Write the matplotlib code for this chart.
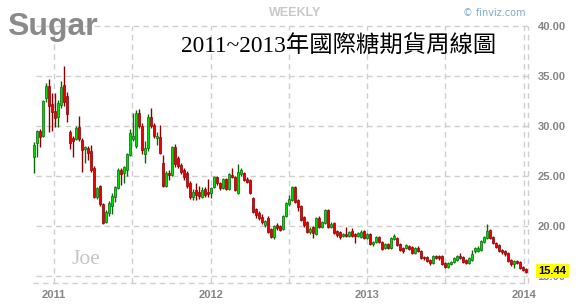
import matplotlib
matplotlib.use('Agg')
import matplotlib.pyplot as plt
import matplotlib.dates as mdates
import matplotlib.transforms as mtransforms
import pandas as pd
import numpy as np

# ---------------- data (weekly sugar futures) ----------------
dates = pd.date_range('2010-11-15', periods=165, freq='7D')

opens = [26.9, 28.3, 29.5, 29.0, 32.8, 34.0, 32.2, 31.5, 30.9, 32.1,
         34.1, 33.0, 29.4, 28.8, 28.7, 29.9, 28.6, 27.7, 27.8, 27.5,
         25.8, 22.9, 24.0, 22.2, 20.4, 21.3, 22.0, 22.9, 23.8, 25.6,
         25.3, 25.6, 27.1, 28.7, 28.0, 31.3, 30.0, 27.2, 27.8, 30.9,
         30.1, 28.8, 28.9, 26.3, 24.0, 25.3, 25.1, 27.9, 26.8, 26.1,
         25.6, 25.3, 24.3, 22.9, 23.6, 23.4, 22.9, 23.7, 23.4, 23.3,
         23.9, 24.9, 24.3, 23.8, 24.7, 23.7, 25.1, 24.9, 23.3, 25.2,
         25.3, 24.7, 24.6, 22.8, 21.7, 21.3, 20.9, 20.1, 20.8, 19.7,
         18.9, 20.1, 20.0, 19.7, 21.0, 22.2, 22.6, 23.9, 22.6, 22.0,
         20.9, 20.4, 19.4, 19.9, 19.2, 20.8, 19.9, 20.3, 21.6, 19.9,
         20.3, 19.5, 19.4, 19.0, 19.2, 19.0, 19.5, 19.2, 19.0, 18.9,
         19.5, 18.8, 19.2, 18.2, 18.4, 18.9, 18.4, 17.8, 18.2, 17.8,
         18.7, 18.8, 18.2, 17.8, 17.8, 18.0, 17.9, 17.3, 17.8, 17.5,
         16.9, 16.9, 16.6, 16.3, 17.0, 17.0, 17.0, 16.3, 15.9, 16.2,
         16.4, 16.6, 17.0, 16.9, 16.6, 16.3, 16.6, 17.5, 17.5, 17.6,
         18.4, 18.8, 19.6, 18.9, 18.3, 18.1, 17.6, 17.5, 17.3, 16.6,
         16.2, 16.5, 16.4, 15.9, 15.7]

highs = [28.4, 29.6, 29.7, 32.6, 34.3, 34.7, 33.3, 33.3, 32.6, 34.5,
         36.0, 33.4, 29.6, 29.0, 30.0, 31.0, 28.8, 28.0, 28.0, 28.1,
         26.0, 23.9, 24.1, 22.3, 21.6, 22.5, 23.3, 24.0, 25.8, 25.8,
         26.0, 27.3, 29.7, 31.3, 31.6, 31.7, 30.3, 28.5, 31.2, 31.8,
         30.3, 29.4, 30.1, 27.1, 25.5, 25.6, 28.0, 28.2, 27.0, 26.3,
         25.8, 25.5, 24.5, 23.7, 24.3, 24.0, 23.9, 23.9, 24.7, 23.9,
         25.0, 25.0, 24.4, 24.8, 24.8, 25.3, 25.8, 25.0, 26.2, 25.8,
         25.4, 24.9, 24.7, 22.9, 21.8, 21.5, 21.2, 20.6, 21.0, 19.8,
         20.1, 20.3, 20.1, 21.1, 22.4, 23.1, 24.0, 24.0, 22.7, 22.1,
         21.0, 20.5, 19.9, 20.0, 20.9, 21.0, 20.5, 21.7, 21.7, 20.4,
         20.4, 19.6, 19.5, 19.3, 19.9, 19.5, 19.8, 19.3, 19.4, 19.6,
         19.6, 19.3, 19.3, 18.5, 19.0, 19.0, 18.5, 18.3, 18.3, 18.9,
         19.2, 18.9, 18.3, 17.9, 18.2, 18.1, 18.0, 17.9, 18.0, 17.6,
         17.0, 17.0, 16.7, 17.1, 17.1, 17.1, 17.1, 16.4, 16.4, 16.5,
         16.9, 17.1, 17.3, 17.0, 16.7, 16.9, 17.6, 17.9, 18.0, 18.6,
         19.0, 20.2, 19.7, 19.0, 18.4, 18.2, 17.7, 17.6, 17.4, 16.7,
         16.6, 16.6, 16.5, 16.0, 15.8]

lows = [25.3, 26.9, 27.9, 28.9, 32.4, 29.4, 29.5, 29.9, 29.9, 31.8,
        32.0, 30.4, 27.7, 26.9, 28.6, 28.5, 25.4, 26.3, 26.6, 25.4,
        22.8, 22.7, 22.0, 20.2, 20.3, 21.0, 21.2, 22.4, 23.7, 24.1,
        24.3, 25.0, 27.0, 28.5, 27.8, 29.8, 27.2, 26.3, 27.5, 29.8,
        28.8, 28.1, 27.2, 23.9, 23.9, 24.6, 25.0, 25.9, 25.8, 25.2,
        24.6, 23.8, 22.7, 22.6, 22.6, 22.7, 22.8, 22.9, 22.9, 22.8,
        23.8, 24.1, 23.6, 23.7, 23.6, 23.6, 24.8, 23.5, 23.2, 25.0,
        24.5, 24.3, 23.2, 21.3, 20.8, 20.6, 20.2, 19.9, 19.3, 18.8,
        18.7, 19.6, 19.5, 19.6, 20.9, 22.0, 22.5, 22.3, 21.5, 20.5,
        19.9, 19.3, 19.2, 18.8, 19.1, 19.8, 19.8, 20.2, 19.8, 19.8,
        19.2, 18.9, 18.7, 18.9, 18.9, 18.9, 18.9, 18.3, 18.9, 18.8,
        18.7, 18.7, 18.1, 18.0, 18.3, 18.3, 17.6, 17.7, 17.7, 17.7,
        18.6, 18.0, 17.5, 17.3, 17.7, 17.6, 17.2, 17.2, 17.4, 16.7,
        16.6, 16.4, 16.1, 16.2, 16.7, 16.6, 16.1, 15.8, 15.8, 16.1,
        16.3, 16.5, 16.7, 16.3, 16.2, 16.2, 16.5, 17.3, 17.4, 17.5,
        18.3, 18.7, 18.7, 18.2, 17.8, 17.4, 17.2, 17.0, 16.4, 16.0,
        15.8, 16.2, 15.7, 15.5, 15.3]

closes = [28.1, 29.5, 28.9, 32.5, 34.0, 32.0, 31.4, 30.8, 32.3, 33.9,
          32.4, 31.2, 28.3, 28.5, 29.8, 28.7, 27.6, 27.9, 27.3, 25.6,
          22.9, 23.8, 22.2, 20.3, 21.4, 22.3, 23.0, 23.9, 25.6, 25.2,
          25.9, 27.2, 29.3, 29.0, 31.3, 30.0, 27.6, 27.8, 30.9, 30.0,
          29.0, 29.0, 27.3, 24.0, 25.3, 25.1, 27.9, 26.2, 26.0, 25.4,
          24.9, 24.0, 22.9, 23.4, 23.1, 23.0, 23.6, 23.1, 23.2, 23.8,
          24.9, 24.3, 23.8, 24.7, 23.7, 25.2, 24.9, 23.6, 25.4, 25.6,
          24.6, 24.4, 23.3, 21.4, 21.1, 20.8, 20.4, 20.5, 19.4, 18.9,
          20.0, 19.8, 19.6, 21.0, 22.3, 22.7, 23.9, 22.4, 21.9, 20.6,
          20.1, 19.4, 19.7, 19.3, 20.8, 19.9, 20.4, 21.6, 19.9, 20.2,
          19.3, 19.1, 18.9, 19.2, 19.0, 19.4, 19.0, 19.0, 19.3, 19.4,
          18.8, 19.2, 18.2, 18.4, 18.9, 18.4, 17.7, 18.2, 17.8, 18.8,
          19.0, 18.1, 17.6, 17.5, 18.1, 17.7, 17.3, 17.8, 17.5, 16.8,
          16.8, 16.5, 16.3, 17.0, 16.8, 16.8, 16.2, 15.9, 16.3, 16.4,
          16.8, 17.0, 16.8, 16.4, 16.3, 16.8, 17.2, 17.8, 17.8, 18.5,
          18.9, 19.5, 18.8, 18.3, 17.9, 17.5, 17.4, 17.2, 16.5, 16.2,
          16.5, 16.3, 15.8, 15.6, 15.44]

ytick_values = [15, 20, 25, 30, 35, 40]
year_labels = ['2011', '2012', '2013', '2014']
year_dates = ['2011-01-01', '2012-01-01', '2013-01-01', '2014-01-01']
half_year_dates = ['2011-07-01', '2012-07-01', '2013-07-01']
last_label = '15.44'

# ---------------- figure ----------------
W, H = 582, 306
fig = plt.figure(figsize=(W / 100, H / 100), dpi=100)
fig.patch.set_facecolor('white')
ax_l, ax_r, ax_t, ax_b = 33, 528, 26, 283
ax = fig.add_axes([ax_l / W, 1 - ax_b / H, (ax_r - ax_l) / W, (ax_b - ax_t) / H])
ax.set_facecolor('white')

x = mdates.date2num(dates.to_pydatetime())
o = np.array(opens); h = np.array(highs); l = np.array(lows); c = np.array(closes)
up = c >= o

step = 7.0  # days per candle, ~3 px
ax.set_xlim(x[0] - step / 3, x[-1] + step * 2 / 3)
ax.set_ylim(40 - (ax_b - ax_t) / 10.0, 40)

grid_col = '#cfcfcf'
dash = (0, (4, 3))
for yv in ytick_values:
    ax.axhline(yv, xmin=3 / (ax_r - ax_l), color=grid_col, lw=1, ls=dash, zorder=0, clip_on=False)
for d in year_dates + half_year_dates:
    ax.axvline(mdates.date2num(pd.Timestamp(d)), color=grid_col, lw=1, ls=dash, zorder=0)
ax.axvline(ax.get_xlim()[1], color=grid_col, lw=1, ls=dash, zorder=0, clip_on=False)
ax.axhline(ax.get_ylim()[0], color=grid_col, lw=1, ls=dash, zorder=0, clip_on=False)

green_fill, green_edge = '#00dd00', '#0a6a0a'
red_fill, red_edge = '#ee0000', '#8a0000'

# wicks
ax.vlines(x[up], l[up], h[up], color=green_edge, lw=1.0, zorder=2)
ax.vlines(x[~up], l[~up], h[~up], color=red_edge, lw=1.0, zorder=2)

# bodies
body_bottom = np.minimum(o, c)
body_h = np.maximum(np.abs(c - o), 0.08)
bw = step * 0.85
ax.bar(x[up], body_h[up], bottom=body_bottom[up], width=bw, color=green_fill,
       edgecolor=green_edge, linewidth=0.5, zorder=3)
ax.bar(x[~up], body_h[~up], bottom=body_bottom[~up], width=bw, color=red_fill,
       edgecolor=red_edge, linewidth=0.5, zorder=3)

for s in ax.spines.values():
    s.set_visible(False)

# y axis labels on the right
ax.yaxis.tick_right()
ax.set_yticks(ytick_values)
ax.set_yticklabels([f'{v:.2f}' for v in ytick_values])
ax.tick_params(axis='y', length=0, pad=7, labelsize=8, labelcolor='#858585')
for t in ax.get_yticklabels():
    t.set_fontfamily('Liberation Sans')
    t.set_fontweight('bold')

# x axis year labels
ax.set_xticks([mdates.date2num(pd.Timestamp(d)) for d in year_dates])
ax.set_xticklabels(year_labels)
ax.tick_params(axis='x', length=0, pad=5, labelsize=8, labelcolor='#858585')
for t in ax.get_xticklabels():
    t.set_fontfamily('Liberation Sans')
    t.set_fontweight('bold')

# last price box (drawn over the 15.00 label, as in the reference)
trans = mtransforms.blended_transform_factory(ax.transAxes, ax.transData)
ax.text(1 + 10.5 / (ax_r - ax_l), closes[-1] + 0.08, last_label, transform=trans,
        ha='left', va='center', fontsize=8, fontweight='bold', color='black',
        family='Liberation Sans', zorder=10, clip_on=False,
        bbox=dict(facecolor='#ffff00', edgecolor='none', boxstyle='square,pad=0.2'))

# header texts
fig.text(7 / W, 1 - 35 / H, 'Sugar', fontsize=23, fontweight='bold', color='#8a8a8a',
         family='Liberation Sans', ha='left', va='baseline')
fig.text(295 / W, 1 - 13.5 / H, 'WEEKLY', fontsize=9, fontweight='bold', color='#c8c8c8',
         family='Liberation Sans', ha='center', va='center')
fig.text(463 / W, 1 - 13.5 / H, '\u00a9 finviz.com', fontsize=7, color='#7fa9d4',
         family='DejaVu Sans', ha='left', va='center')
fig.text(181 / W, 1 - 47 / H, '2011~2013年國際糖期貨周線圖', fontsize=16.8, color='black',
         family=['Liberation Serif', 'Noto Sans CJK TC'], ha='left', va='center')
fig.text(72 / W, 1 - 264 / H, 'Joe', fontsize=15.5, color='#c4c4c4',
         family='Liberation Serif', ha='left', va='baseline')

fig.savefig('out.png', dpi=100, facecolor='white')
